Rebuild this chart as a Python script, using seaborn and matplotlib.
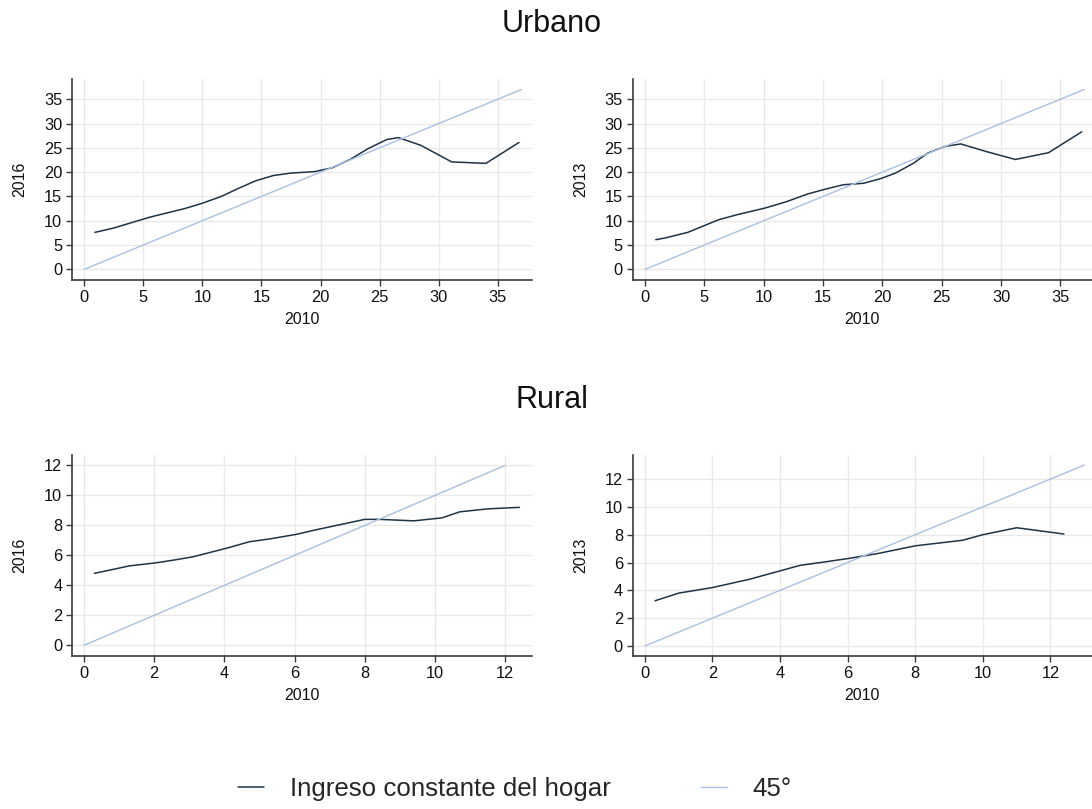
import matplotlib
matplotlib.use("Agg")
import matplotlib.pyplot as plt
import seaborn as sns
from matplotlib.lines import Line2D

# ---------------- data ----------------
# Urbano: 2016 vs 2010
urb16_x = [0.9, 2.5, 4.0, 5.5, 7.0, 8.5, 10.0, 11.6, 13.0, 14.5, 16.0, 17.5, 19.5, 21.0, 22.5, 24.0, 25.6, 26.6, 28.5, 31.1, 34.0, 36.8]
urb16_y = [7.6, 8.5, 9.6, 10.7, 11.6, 12.5, 13.6, 15.0, 16.6, 18.2, 19.3, 19.8, 20.1, 20.9, 22.6, 24.8, 26.7, 27.1, 25.5, 22.1, 21.8, 26.1]
# Urbano: 2013 vs 2010
urb13_x = [0.9, 1.6, 3.6, 5.1, 6.2, 7.7, 10.1, 11.9, 13.7, 15.2, 16.7, 18.4, 19.9, 21.1, 22.6, 23.8, 25.3, 26.6, 28.8, 31.2, 34.0, 36.8]
urb13_y = [6.1, 6.4, 7.6, 9.1, 10.2, 11.2, 12.6, 13.9, 15.5, 16.5, 17.4, 17.7, 18.7, 19.8, 21.8, 23.9, 25.3, 25.8, 24.2, 22.6, 24.0, 28.3]
# Rural: 2016 vs 2010
rur16_x = [0.3, 1.3, 2.05, 2.6, 3.1, 4.1, 4.7, 5.3, 6.05, 6.6, 7.4, 8.0, 8.4, 9.4, 10.2, 10.7, 11.5, 12.4]
rur16_y = [4.8, 5.3, 5.5, 5.7, 5.9, 6.5, 6.9, 7.1, 7.4, 7.7, 8.1, 8.4, 8.4, 8.3, 8.5, 8.9, 9.1, 9.2]
# Rural: 2013 vs 2010
rur13_x = [0.3, 1.0, 2.0, 3.1, 4.0, 4.6, 5.2, 6.05, 6.9, 8.0, 9.4, 10.0, 11.0, 12.4]
rur13_y = [3.25, 3.8, 4.2, 4.8, 5.4, 5.8, 6.0, 6.3, 6.65, 7.2, 7.6, 8.0, 8.5, 8.05]
# 45 degree reference lines
ref_urb16 = [0, 37]
ref_urb13 = [0, 37]
ref_rur16 = [0, 12]
ref_rur13 = [0, 13]

urb_ticks = [0, 5, 10, 15, 20, 25, 30, 35]
rur_ticks = [0, 2, 4, 6, 8, 10, 12]

titles = ["Urbano", "Rural"]
xlab = "2010"
legend_labels = ["Ingreso constante del hogar", "45°"]

# ---------------- style ----------------
sns.set_theme(style="white")
plt.rcParams["font.family"] = ["Liberation Sans", "DejaVu Sans"]

DARK = "#1e3446"
LIGHT = "#a9c0e2"
GRID = "#e9e9e9"
SPINE = "#3a3a3a"
TXT = "#111111"

W, H = 1092, 809
fig = plt.figure(figsize=(W / 100, H / 100), dpi=100)

def box(l, t, r, b):
    return [l / W, 1 - b / H, (r - l) / W, (b - t) / H]

panels = [
    dict(rect=box(72, 79.3, 532, 280), x=urb16_x, y=urb16_y, ref=ref_urb16, ylab="2016",
         xlim=(-1.04, 37.9), ylim=(-2.2, 39.1), ticks=urb_ticks),
    dict(rect=box(632.7, 79.3, 1092, 280), x=urb13_x, y=urb13_y, ref=ref_urb13, ylab="2013",
         xlim=(-1.04, 37.66), ylim=(-2.2, 39.1), ticks=urb_ticks),
    dict(rect=box(72, 455, 532, 656), x=rur16_x, y=rur16_y, ref=ref_rur16, ylab="2016",
         xlim=(-0.34, 12.76), ylim=(-0.71, 12.69), ticks=rur_ticks),
    dict(rect=box(632.7, 455, 1092, 656), x=rur13_x, y=rur13_y, ref=ref_rur13, ylab="2013",
         xlim=(-0.36, 13.23), ylim=(-0.72, 13.73), ticks=rur_ticks),
]

for p in panels:
    ax = fig.add_axes(p["rect"])
    ax.set_xlim(*p["xlim"])
    ax.set_ylim(*p["ylim"])
    ax.set_xticks(p["ticks"])
    ax.set_yticks(p["ticks"])
    ax.grid(True, color=GRID, linewidth=1.0)
    ax.set_axisbelow(True)
    sns.lineplot(x=p["x"], y=p["y"], ax=ax, color=DARK, linewidth=1.1,
                 estimator=None, sort=False)
    sns.lineplot(x=p["ref"], y=p["ref"], ax=ax, color=LIGHT, linewidth=1.0,
                 estimator=None, sort=False)
    for s in ["top", "right"]:
        ax.spines[s].set_visible(False)
    for s in ["left", "bottom"]:
        ax.spines[s].set_color(SPINE)
        ax.spines[s].set_linewidth(1.2)
    ax.tick_params(axis="both", which="both", direction="out", length=4.5, width=1,
                   color=SPINE, labelsize=11.8, labelcolor=TXT, pad=2.5,
                   left=True, bottom=True)
    ax.set_xlabel(xlab, fontsize=11.5, labelpad=5.5, color=TXT)
    ax.set_ylabel(p["ylab"], fontsize=11.5, color=TXT)
    ax.yaxis.set_label_coords(-0.097, 0.5)

fig.text(552 / W, 1 - 24 / H, titles[0], ha="center", va="center", fontsize=22, color=TXT)
fig.text(552 / W, 1 - 400 / H, titles[1], ha="center", va="center", fontsize=22, color=TXT)

handles = [Line2D([0], [0], color=DARK, linewidth=1.1),
           Line2D([0], [0], color=LIGHT, linewidth=1.0)]
fig.legend(handles, legend_labels, loc="center", bbox_to_anchor=(515 / W, 1 - 789 / H),
           ncol=2, frameon=False, fontsize=18.6, handlelength=1.0, handletextpad=1.0,
           columnspacing=3.5)

fig.savefig("out.png", dpi=100)
